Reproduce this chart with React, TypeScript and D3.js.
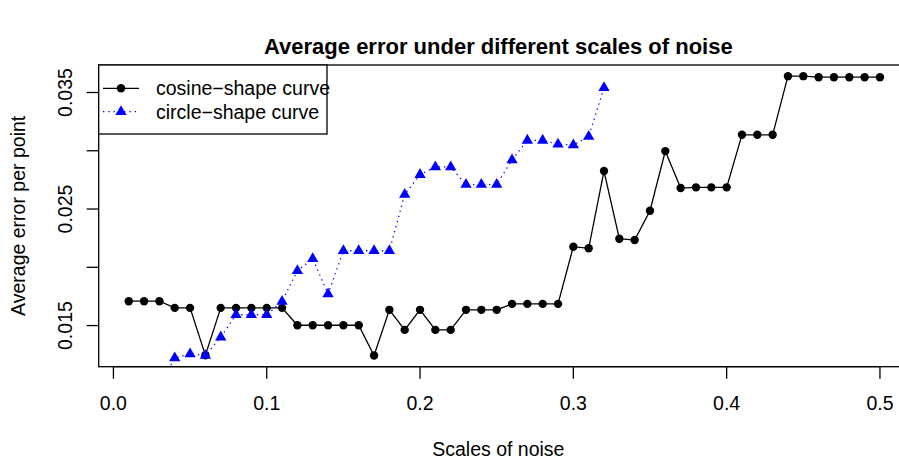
import React from "react";
import * as d3 from "d3";

const noise = [
  0.01, 0.02, 0.03, 0.04, 0.05, 0.06, 0.07, 0.08, 0.09, 0.1,
  0.11, 0.12, 0.13, 0.14, 0.15, 0.16, 0.17, 0.18, 0.19, 0.2,
  0.21, 0.22, 0.23, 0.24, 0.25, 0.26, 0.27, 0.28, 0.29, 0.3,
  0.31, 0.32, 0.33, 0.34, 0.35, 0.36, 0.37, 0.38, 0.39, 0.4,
  0.41, 0.42, 0.43, 0.44, 0.45, 0.46, 0.47, 0.48, 0.49, 0.5,
];

const cosineErr = [
  0.01709, 0.01709, 0.01709, 0.01652, 0.01652, 0.01246, 0.01652, 0.01652, 0.01652, 0.01652,
  0.01652, 0.01503, 0.01503, 0.01503, 0.01503, 0.01503, 0.01243, 0.01635, 0.01463, 0.01635,
  0.01463, 0.01463, 0.01635, 0.01635, 0.01635, 0.01686, 0.01686, 0.01686, 0.01686, 0.02177,
  0.02163, 0.02826, 0.02245, 0.02234, 0.02485, 0.02997, 0.0268, 0.02686, 0.02686, 0.02686,
  0.03137, 0.03137, 0.03137, 0.0364, 0.0364, 0.03631, 0.03631, 0.03631, 0.03631, 0.03631,
];

const circleErr = [
  0.0085, 0.009, 0.0098, 0.01221, 0.01256, 0.01244, 0.01401, 0.01593, 0.01593, 0.01593,
  0.01707, 0.0197, 0.02073, 0.0177, 0.02142, 0.02142, 0.02142, 0.02142, 0.02625, 0.02795,
  0.02861, 0.02861, 0.0271, 0.0271, 0.0271, 0.02921, 0.03089, 0.03089, 0.03055, 0.0305,
  0.03122, 0.03541,
];

const xTicks = [0, 0.1, 0.2, 0.3, 0.4, 0.5];
const xTickLabels = ["0.0", "0.1", "0.2", "0.3", "0.4", "0.5"];
const yTicks = [0.015, 0.02, 0.025, 0.03, 0.035];
const yTickLabels = ["0.015", "", "0.025", "", "0.035"];
const legendLabels = ["cosine\u2212shape curve", "circle\u2212shape curve"];

const title = "Average error under different scales of noise";
const xTitle = "Scales of noise";
const yTitle = "Average error per point";

const W = 899;
const H = 460;
const FONT = "'Liberation Sans', Arial, Helvetica, sans-serif";

export default function App() {
  const left = 98.7;
  const right = 910;
  const top = 65;
  const bottom = 366.7;

  const xExt = d3.extent(noise) as [number, number];
  const xPad = (xExt[1] - xExt[0]) * 0.04;
  const x = d3.scaleLinear().domain([xExt[0] - xPad, xExt[1] + xPad]).range([left, right]);

  const yExt = d3.extent(cosineErr) as [number, number];
  const yPad = (yExt[1] - yExt[0]) * 0.04;
  const y = d3.scaleLinear().domain([yExt[0] - yPad, yExt[1] + yPad]).range([bottom, top]);

  const cosPts: [number, number][] = cosineErr.map((v, i) => [noise[i], v]);
  const cirPts: [number, number][] = circleErr.map((v, i) => [noise[i], v]);

  const line = d3
    .line<[number, number]>()
    .x((d) => x(d[0]))
    .y((d) => y(d[1]));

  const r = 4.2;
  const tri = (cx: number, cy: number, xc = 4.2) => {
    const rr = 1.5551 * xc;
    const hw = 1.3468 * xc;
    const yb = 0.7776 * xc;
    return `M${cx},${cy - rr}L${cx + hw},${cy + yb}L${cx - hw},${cy + yb}Z`;
  };

  const tickLen = 12;
  const fs = 19.5;

  const legTop = top;
  const legRow1 = 88.3;
  const legRow2 = 111.7;

  return (
    <svg
      width={W}
      height={H}
      style={{ position: "absolute", left: 0, top: 0, background: "#fff" }}
      fontFamily={FONT}
    >
      <defs>
        <clipPath id="plotclip">
          <rect x={left} y={top} width={right - left} height={bottom - top} />
        </clipPath>
      </defs>
      <rect x={0} y={0} width={W} height={H} fill="#fff" />

      <text x={(left + right) / 2 - 6} y={53.5} textAnchor="middle" fontWeight="bold" fontSize={22}>
        {title}
      </text>

      <g clipPath="url(#plotclip)">
        <path d={line(cosPts) || ""} fill="none" stroke="#000" strokeWidth={1.3} />
        {cosPts.map((d, i) => (
          <circle key={"c" + i} cx={x(d[0])} cy={y(d[1])} r={r} fill="#000" />
        ))}
        <path
          d={line(cirPts) || ""}
          fill="none"
          stroke="#0000ff"
          strokeWidth={1.3}
          strokeDasharray="1.3 4"
        />
        {cirPts.map((d, i) => (
          <path key={"t" + i} d={tri(x(d[0]), y(d[1]))} fill="#0000ff" />
        ))}
      </g>

      {/* frame */}
      <rect x={left} y={top} width={right - left} height={bottom - top} fill="none" stroke="#000" strokeWidth={1.3} />

      {/* x axis */}
      <line x1={x(xTicks[0])} x2={x(xTicks[xTicks.length - 1])} y1={bottom} y2={bottom} stroke="#000" strokeWidth={1.3} />
      {xTicks.map((t, i) => (
        <g key={"xt" + i}>
          <line x1={x(t)} x2={x(t)} y1={bottom} y2={bottom + tickLen} stroke="#000" strokeWidth={1.3} />
          <text x={x(t)} y={410} textAnchor="middle" fontSize={fs}>
            {xTickLabels[i]}
          </text>
        </g>
      ))}
      <text x={(left + right) / 2 - 6} y={456} textAnchor="middle" fontSize={fs}>
        {xTitle}
      </text>

      {/* y axis */}
      {yTicks.map((t, i) => (
        <g key={"yt" + i}>
          <line x1={left - tickLen} x2={left} y1={y(t)} y2={y(t)} stroke="#000" strokeWidth={1.3} />
          {yTickLabels[i] && (
            <text
              transform={`translate(${72},${y(t)}) rotate(-90)`}
              textAnchor="middle"
              fontSize={fs}
            >
              {yTickLabels[i]}
            </text>
          )}
        </g>
      ))}
      <text
        transform={`translate(${25},${(top + bottom) / 2}) rotate(-90)`}
        textAnchor="middle"
        fontSize={fs}
      >
        {yTitle}
      </text>

      {/* legend */}
      <rect x={left} y={legTop} width={327 - left} height={134 - legTop} fill="#fff" stroke="#000" strokeWidth={1.3} />
      <line x1={103} x2={139} y1={legRow1} y2={legRow1} stroke="#000" strokeWidth={1.3} />
      <circle cx={121} cy={legRow1} r={r} fill="#000" />
      <text x={156} y={legRow1 + 7} fontSize={fs}>
        {legendLabels[0]}
      </text>
      <line x1={103} x2={139} y1={legRow2} y2={legRow2} stroke="#0000ff" strokeWidth={1.3} strokeDasharray="1.3 4" />
      <path d={tri(121, legRow2)} fill="#0000ff" />
      <text x={156} y={legRow2 + 7} fontSize={fs}>
        {legendLabels[1]}
      </text>
    </svg>
  );
}
